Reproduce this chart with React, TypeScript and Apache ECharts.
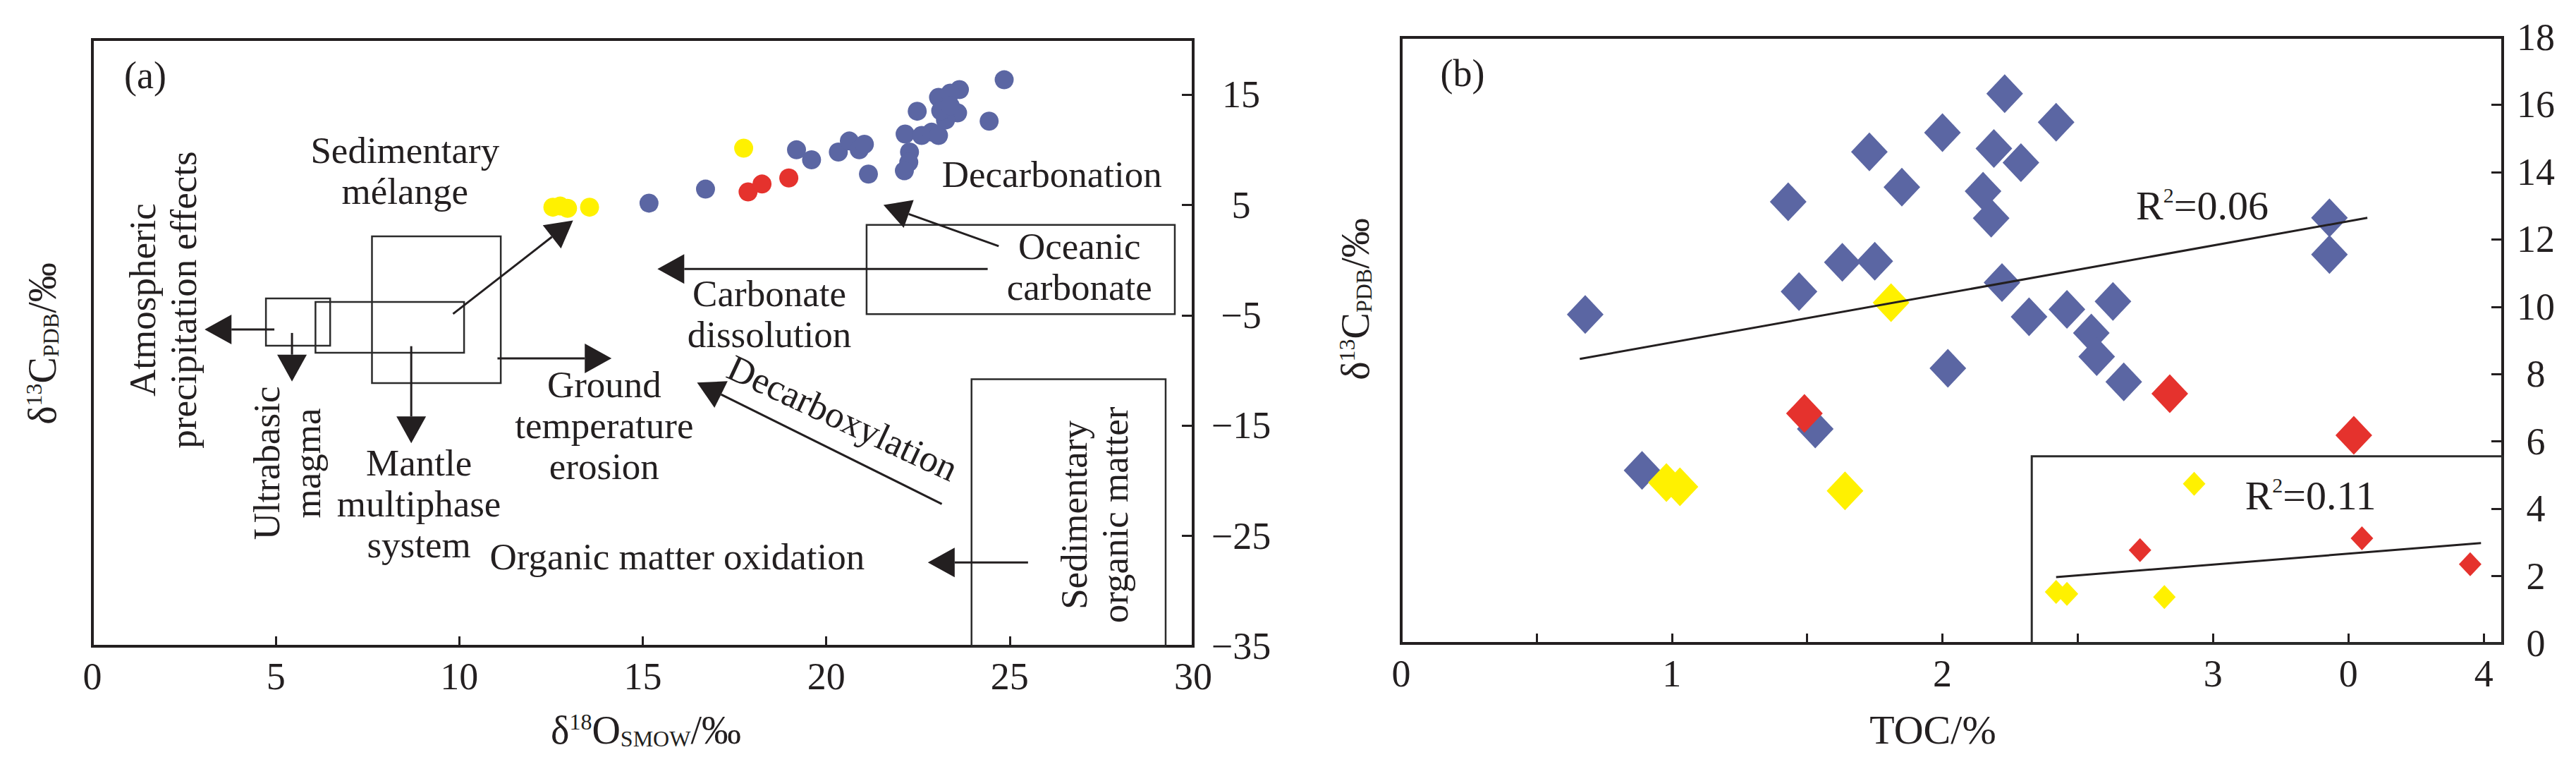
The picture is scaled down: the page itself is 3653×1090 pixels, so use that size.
import React, { useEffect, useRef } from "react";
import * as echarts from "echarts";

const FONT = '"Liberation Serif", "Times New Roman", serif';
const INK = "#231f20";
const BLUE = "#5b66a3";
const RED = "#e5322d";
const YELLOW = "#fff100";

// ---------- Panel (a): δ18O vs δ13C ----------
const aXTicks = [0, 5, 10, 15, 20, 25, 30];
const aYTicks = [-35, -25, -15, -5, 5, 15];
const aBlue: [number, number][] = [
  [15.17, 5.17], [16.71, 6.44], [19.19, 10.0], [19.6, 9.1], [20.33, 9.8], [20.63, 10.8],
  [20.9, 10.0], [21.04, 10.5], [21.15, 7.8], [22.15, 11.43], [22.6, 11.3], [22.87, 11.6],
  [23.06, 11.3], [22.27, 9.8], [22.25, 8.87], [22.13, 8.1], [22.48, 13.5], [23.06, 14.76],
  [23.63, 15.46], [23.38, 15.14], [23.58, 13.35], [23.25, 12.7], [23.12, 13.54], [23.38, 13.99],
  [24.44, 12.6], [24.85, 16.35],
];
const aRed: [number, number][] = [[17.87, 6.19], [18.25, 6.9], [18.98, 7.45]];
const aYellow: [number, number][] = [[12.55, 4.8], [12.75, 4.9], [12.95, 4.7], [13.55, 4.8], [17.75, 10.15]];

// ---------- Panel (b): TOC vs δ13C ----------
const bXTicks = [0, 0.5, 1, 1.5, 2, 2.5, 3, 3.5, 4];
const bXLabels = [0, 1, 2, 3, 3.5, 4];
const bBlue: [number, number][] = [
  [0.68, 9.77], [0.89, 5.14], [1.43, 13.12], [1.47, 10.45], [1.53, 6.37], [1.63, 11.32],
  [1.73, 14.6], [1.75, 11.35], [1.85, 13.55], [2.0, 15.17], [2.02, 8.17], [2.15, 13.43],
  [2.18, 12.63], [2.19, 14.7], [2.22, 10.72], [2.23, 16.33], [2.29, 14.28], [2.32, 9.7],
  [2.42, 15.48], [2.46, 9.92], [2.55, 9.22], [2.57, 8.52], [2.63, 10.16], [2.67, 7.77],
  [3.43, 12.64], [3.43, 11.55],
];
const bRed: [number, number][] = [[1.49, 6.83], [2.84, 7.42], [3.52, 6.18]];
const bYellow: [number, number][] = [[0.98, 4.78], [1.03, 4.65], [1.64, 4.53], [1.81, 10.12]];
const bInsetYellow: [number, number][] = [[2.42, 1.53], [2.46, 1.47], [2.82, 1.38], [2.93, 4.74]];
const bInsetRed: [number, number][] = [[2.73, 2.77], [3.55, 3.12], [3.95, 2.35]];
const bTrend: [number, number][] = [[0.66, 8.45], [3.57, 12.64]];
const bInsetTrend: [number, number][] = [[2.42, 1.97], [3.99, 2.98]];
const bTrendLabel = "R{s|2}=0.06";
const bInsetLabel = "R{s|2}=0.11";

// ---------- Annotation layout (data coordinates of panel a) ----------
const aBoxes: number[][] = [
  [4.73, -3.47, 6.48, -7.75],
  [6.08, -3.79, 10.13, -8.39],
  [7.62, 2.16, 11.13, -11.14],
  [21.1, 3.2, 29.5, -4.9],
  [23.96, -10.8, 29.25, -35],
];
const aArrows: number[][] = [
  [4.96, -6.28, 3.06, -6.28],
  [5.44, -6.6, 5.44, -11.0],
  [8.69, -7.8, 8.69, -16.6],
  [11.04, -8.9, 14.15, -8.9],
  [9.83, -4.87, 13.1, 3.6],
  [24.4, -0.8, 15.4, -0.8],
  [24.7, 1.27, 21.56, 5.0],
  [23.15, -22.1, 16.48, -11.1],
  [25.5, -27.4, 22.77, -27.4],
];
const aTexts: { t: string; x: number; y: number; r?: number }[] = [
  { t: "Sedimentary\nmélange", x: 8.52, y: 8.1 },
  { t: "Atmospheric\nprecipitation effects", x: 1.92, y: -3.6, r: 90 },
  { t: "Ultrabasic\nmagma", x: 5.31, y: -18.4, r: 90 },
  { t: "Mantle\nmultiphase\nsystem", x: 8.9, y: -22.1 },
  { t: "Ground\ntemperature\nerosion", x: 13.95, y: -15.0 },
  { t: "Carbonate\ndissolution", x: 18.45, y: -4.85 },
  { t: "Oceanic\ncarbonate", x: 26.9, y: -0.6 },
  { t: "Decarbonation", x: 26.15, y: 7.8 },
  { t: "Decarboxylation", x: 20.45, y: -14.3, r: -25 },
  { t: "Organic matter oxidation", x: 15.94, y: -26.9 },
  { t: "Sedimentary\norganic matter", x: 27.3, y: -23.1, r: 90 },
];

const minus = (v: number) => String(v).replace("-", "\u2212");

const titleRich = {
  n: { fontSize: 56, fontFamily: FONT, color: INK, lineHeight: 56 },
  sup: { fontSize: 32, fontFamily: FONT, color: INK, verticalAlign: "top", lineHeight: 20 },
  sub: { fontSize: 32, fontFamily: FONT, color: INK, verticalAlign: "bottom", lineHeight: 18 },
};

function textEl(x: number, y: number, text: string, size: number, rotDeg = 0, extra: any = {}) {
  return {
    type: "text",
    x,
    y,
    rotation: (rotDeg * Math.PI) / 180,
    z: 20,
    style: {
      text,
      fontSize: size,
      fontFamily: FONT,
      fill: INK,
      align: "center",
      verticalAlign: "middle",
      textAlign: "center",
      textVerticalAlign: "middle",
      lineHeight: 58,
      ...extra,
    },
  };
}

function buildGraphics(chart: any) {
  const pa = (p: number[]) => chart.convertToPixel({ gridIndex: 0 }, p) as number[];
  const pb = (p: number[]) => chart.convertToPixel({ gridIndex: 1 }, p) as number[];
  const els: any[] = [];
  const rect = (p1: number[], p2: number[], w: number) => ({
    type: "rect",
    z: 15,
    shape: {
      x: Math.min(p1[0], p2[0]),
      y: Math.min(p1[1], p2[1]),
      width: Math.abs(p2[0] - p1[0]),
      height: Math.abs(p2[1] - p1[1]),
    },
    style: { fill: "transparent", stroke: "#2b2b2b", lineWidth: w },
  });
  aBoxes.forEach((b) => els.push(rect(pa([b[0], b[1]]), pa([b[2], b[3]]), 2.5)));
  aArrows.forEach((a) => {
    const s = pa([a[0], a[1]]);
    const e = pa([a[2], a[3]]);
    const dx = e[0] - s[0];
    const dy = e[1] - s[1];
    const len = Math.hypot(dx, dy);
    const ux = dx / len;
    const uy = dy / len;
    const L = 38;
    const W = 21;
    const bx = e[0] - ux * L;
    const by = e[1] - uy * L;
    els.push({
      type: "line",
      z: 15,
      shape: { x1: s[0], y1: s[1], x2: bx, y2: by },
      style: { stroke: INK, lineWidth: 3 },
    });
    els.push({
      type: "polygon",
      z: 15,
      shape: {
        points: [
          [e[0], e[1]],
          [bx - uy * W, by + ux * W],
          [bx + uy * W, by - ux * W],
        ],
      },
      style: { fill: INK },
    });
  });
  aTexts.forEach((t) => {
    const p = pa([t.x, t.y]);
    els.push(textEl(p[0], p[1], t.t, 53, t.r || 0));
  });
  // panel labels
  els.push(textEl(206, 107, "(a)", 54));
  els.push(textEl(2074, 104, "(b)", 54));
  // inset box in panel b
  els.push(rect(pb([2.33, 5.56]), pb([4.07, 0]), 3));
  // R² labels
  const rRich = {
    s: { fontSize: 30, fontFamily: FONT, fill: INK, color: INK, verticalAlign: "top", lineHeight: 20 },
  };
  const r1 = pb([2.96, 13.0]);
  els.push(textEl(r1[0], r1[1], bTrendLabel, 58, 0, { rich: rRich, lineHeight: 60 }));
  const r2 = pb([3.36, 4.38]);
  els.push(textEl(r2[0], r2[1], bInsetLabel, 58, 0, { rich: rRich, lineHeight: 60 }));
  // axis titles
  els.push(textEl(60, 487, "{n|δ}{sup|13}{n|C}{sub|PDB}{n|/‰}", 56, 90, { rich: titleRich }));
  els.push(textEl(1922, 424, "{n|δ}{sup|13}{n|C}{sub|PDB}{n|/‰}", 56, 90, { rich: titleRich }));
  els.push(textEl(916, 1035, "{n|δ}{sup|18}{n|O}{sub|SMOW}{n|/‰}", 56, 0, { rich: titleRich }));
  els.push(textEl(2741, 1034, "{t|TOC/%}", 58, 0, { rich: { t: { fontSize: 58, fontFamily: FONT, color: INK } } }));
  return els;
}

const axisLabelStyle = { fontSize: 54, fontFamily: FONT, color: INK };

export default function App() {
  const ref = useRef<HTMLDivElement>(null);
  useEffect(() => {
    document.body.style.margin = "0";
    if (!ref.current) return;
    const chart = echarts.init(ref.current, null, { renderer: "svg" });
    const scatter = (name: string, data: [number, number][], idx: number, color: string, symbol: string, size: any) => ({
      name,
      type: "scatter",
      xAxisIndex: idx,
      yAxisIndex: idx,
      data,
      symbol,
      symbolSize: size,
      itemStyle: { color, opacity: 1 },
      z: 5,
    });
    chart.setOption({
      animation: false,
      backgroundColor: "#ffffff",
      textStyle: { fontFamily: FONT },
      grid: [
        { left: 131, top: 56, width: 1561, height: 860, show: true, borderColor: INK, borderWidth: 4 },
        { left: 1987, top: 53, width: 1562, height: 859, show: true, borderColor: INK, borderWidth: 4 },
      ],
      xAxis: [
        {
          type: "value",
          gridIndex: 0,
          min: 0,
          max: 30,
          interval: 5,
          axisLine: { show: true, onZero: false, lineStyle: { color: INK, width: 4 } },
          axisTick: { show: true, inside: true, length: 14, lineStyle: { color: INK, width: 3 } },
          axisLabel: { ...axisLabelStyle, margin: 16, customValues: aXTicks },
          splitLine: { show: false },
        },
        {
          type: "value",
          gridIndex: 1,
          min: 0,
          max: 4.07,
          axisLine: { show: true, onZero: false, lineStyle: { color: INK, width: 4 } },
          axisTick: { show: true, inside: true, length: 14, customValues: bXTicks, lineStyle: { color: INK, width: 3 } },
          axisLabel: {
            ...axisLabelStyle,
            margin: 16,
            customValues: bXLabels,
            formatter: (v: number) => (v === 3.5 ? "0" : String(v)),
          },
          splitLine: { show: false },
        },
      ],
      yAxis: [
        {
          type: "value",
          gridIndex: 0,
          position: "right",
          min: -35,
          max: 20,
          axisLine: { show: true, onZero: false, lineStyle: { color: INK, width: 4 } },
          axisTick: { show: true, inside: true, length: 16, customValues: aYTicks, lineStyle: { color: INK, width: 3 } },
          axisLabel: {
            ...axisLabelStyle,
            margin: 68,
            align: "center",
            customValues: aYTicks,
            formatter: (v: number) => minus(v),
          },
          splitLine: { show: false },
        },
        {
          type: "value",
          gridIndex: 1,
          position: "right",
          min: 0,
          max: 18,
          interval: 2,
          axisLine: { show: true, onZero: false, lineStyle: { color: INK, width: 4 } },
          axisTick: { show: true, inside: true, length: 16, lineStyle: { color: INK, width: 3 } },
          axisLabel: { ...axisLabelStyle, margin: 47, align: "center" },
          splitLine: { show: false },
        },
      ],
      series: [
        scatter("a-blue", aBlue, 0, BLUE, "circle", 27),
        scatter("a-red", aRed, 0, RED, "circle", 27),
        scatter("a-yellow", aYellow, 0, YELLOW, "circle", 27),
        scatter("b-blue", bBlue, 1, BLUE, "diamond", [52, 55]),
        scatter("b-red", bRed, 1, RED, "diamond", [52, 55]),
        scatter("b-yellow", bYellow, 1, YELLOW, "diamond", [52, 55]),
        scatter("b-inset-yellow", bInsetYellow, 1, YELLOW, "diamond", [32, 34]),
        scatter("b-inset-red", bInsetRed, 1, RED, "diamond", [32, 34]),
        {
          name: "trend",
          type: "line",
          xAxisIndex: 1,
          yAxisIndex: 1,
          data: bTrend,
          showSymbol: false,
          symbol: "none",
          lineStyle: { color: INK, width: 3 },
          z: 6,
        },
        {
          name: "inset-trend",
          type: "line",
          xAxisIndex: 1,
          yAxisIndex: 1,
          data: bInsetTrend,
          showSymbol: false,
          symbol: "none",
          lineStyle: { color: INK, width: 3 },
          z: 6,
        },
      ],
    });
    chart.setOption({ graphic: buildGraphics(chart) });
    return () => chart.dispose();
  }, []);
  return <div ref={ref} style={{ width: 3653, height: 1090 }} />;
}
